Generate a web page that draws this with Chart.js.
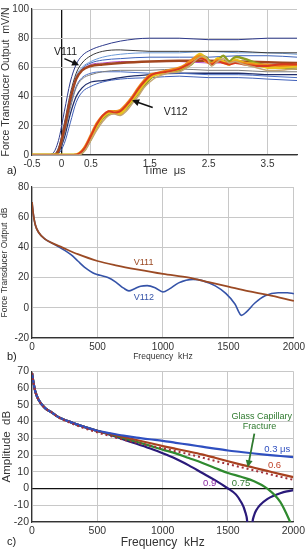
<!DOCTYPE html>
<html>
<head>
<meta charset="utf-8">
<script src="https://cdn.jsdelivr.net/npm/chart.js@4.4.1/dist/chart.umd.min.js"></script>
<style>
  html, body { margin: 0; padding: 0; background: #fff; }
  .wrap { position: relative; width: 308px; height: 550px; overflow: hidden; }
  canvas { position: absolute; left: 0; }
</style>
</head>
<body>
<div class="wrap">
  <canvas id="chartA" width="308" height="178" style="top:0"></canvas>
  <canvas id="chartB" width="308" height="184" style="top:178px"></canvas>
  <canvas id="chartC" width="308" height="188" style="top:362px"></canvas>
</div>
<script>
// ---- a) time traces ----
const TIME_TICKS = [-0.5, 0, 0.5, 1.5, 2.5, 3.5];
const T111 = [-0.5, -0.25, -0.15, -0.05, 0.05, 0.15, 0.25, 0.35, 0.5, 0.7, 1.0, 1.5, 2.0, 2.5, 3.0, 3.5, 4.0];
const V111_TOP    = [0, 0, 1, 10, 30, 50, 62, 68, 72, 75, 78, 80, 80, 79, 79, 80, 80];
const V111_BLACK  = [0, 0, 0, 5, 22, 42, 56, 63, 68, 71, 72, 71, 71, 71, 71, 70, 70];
const V111_LIGHT  = [0, 0, 0, 4, 20, 40, 54, 60, 64, 67, 69, 70, 70, 71, 70, 70, 69];
const V111_BLUE   = [0, 0, 0, 3, 17, 36, 52, 59, 63, 65, 66, 67, 67, 67, 68, 68, 67];
const V111_MAG    = [0, 0, 0, 4, 20, 40, 53, 58, 62, 63, 64, 64, 64, 63, 63, 62, 62];
const V111_GREY   = [0, 0, 0, 2, 14, 32, 46, 52, 55, 57, 58, 58, 59, 58, 58, 57, 57];
const V111_MID    = [0, 0, 0, 3, 16, 34, 47, 53, 56, 57, 57, 56, 56, 55, 55, 54, 53];
const V111_NAVY   = [0, 0, 0, 2, 12, 28, 40, 46, 50, 51, 53, 55, 56, 56, 56, 55, 55];
const V111_LOW    = [0, 0, 0, 1, 8, 22, 36, 43, 47, 50, 52, 53, 54, 53, 53, 52, 51];
const V111_AVG    = [0, 0, 0, 3, 18, 38, 52, 58, 61, 62, 63, 64, 64.5, 64.5, 64, 63.5, 63];

const T112 = [-0.5, 0.2, 0.3, 0.4, 0.5, 0.6, 0.7, 0.8, 0.9, 1.0, 1.1, 1.2, 1.3, 1.4, 1.5, 1.6, 1.8, 2.0, 2.1, 2.2, 2.35, 2.45, 2.55, 2.65, 2.75, 2.85, 2.95, 3.1, 3.3, 3.5, 3.7, 4.0];
const V112_YELLOW = [0, 0, 1, 5, 12, 20, 26, 29, 29, 28, 33, 38, 43, 49, 53, 55, 57, 59, 61, 64, 69, 66, 62, 66, 64, 62, 65, 63, 62, 60, 60, 61];
const V112_GREEN  = [0, 0, 0, 4, 11, 19, 25, 28, 30, 29, 32, 37, 42, 47, 52, 55, 57, 58, 60, 62, 68, 67, 63, 65, 68, 64, 67, 66, 63, 61, 60, 59];
const V112_RED    = [0, 0, 1, 5, 13, 21, 27, 30, 29, 30, 34, 39, 45, 50, 54, 56, 57, 59, 61, 63, 66, 65, 62, 64, 63, 62, 63, 62, 61, 61, 62, 62];
const V112_ORANGE = [0, 0, 1, 6, 14, 22, 27, 30, 30, 31, 35, 40, 46, 51, 55, 56, 58, 60, 62, 65, 68, 64, 63, 65, 63, 63, 64, 63, 62, 62, 61, 62];
const V112_TAN    = [0, 0, 0, 3, 10, 17, 23, 27, 28, 27, 30, 35, 40, 46, 50, 53, 56, 57, 59, 62, 67, 67, 61, 64, 66, 63, 64, 62, 60, 58, 58, 59];

// ---- b) measured spectra ----
const FB111 = [0, 10, 25, 50, 100, 150, 230, 350, 500, 650, 800, 1000, 1200, 1350, 1500, 1650, 1800, 2000];
const DB111 = [70, 62, 55, 50, 45.5, 43, 40, 35.5, 31, 28, 25.5, 22.5, 20, 17, 14, 11, 8.5, 4.6];
const FB112 = [0, 10, 25, 50, 100, 150, 200, 250, 300, 350, 400, 440, 480, 520, 580, 640, 700, 740, 780, 830, 880, 940, 1000, 1050, 1120, 1230, 1300, 1400, 1480, 1550, 1600, 1640, 1700, 1780, 1880, 1950, 2000];
const DB112 = [70, 62, 55, 50, 45.5, 43, 40.5, 38, 35, 31, 27, 24.5, 22.5, 21.5, 20, 17, 13, 11.2, 12.5, 14.3, 14.7, 13.3, 10.5, 12.5, 16.5, 18.8, 18, 14.5, 9.5, 2.5, -5, -2.5, 3, 8, 10, 10, 9.3];

// ---- c) modelled spectra ----
const FC = [0, 10, 25, 50, 100, 150, 200, 300, 400, 500, 600, 700, 800, 900, 1000, 1100, 1200, 1300, 1400, 1500, 1600, 1700, 1800, 1900, 2000];
const DB_03  = [69, 64, 58, 53, 48, 45.5, 42.8, 39.5, 36.8, 34.5, 33, 31.6, 30.4, 29.4, 28.5, 27.3, 26.2, 25, 23.8, 22.7, 21.8, 20.9, 20.1, 19.4, 18.7];
const DB_06  = [69, 64, 58, 53, 48, 45.5, 42.8, 39.5, 36.8, 34.4, 32.6, 30.8, 29, 27.2, 25.3, 23.7, 22.1, 20.4, 18.4, 16.3, 14.3, 12.4, 10.5, 8.6, 6.8];
const DB_GCF = [69, 64, 58, 53, 48, 45.5, 42.5, 39, 36, 33.5, 31.3, 29.2, 27.3, 25.6, 24, 22.3, 20.5, 18.5, 16.5, 14.6, 12.7, 10.8, 8.9, 7, 5.2];
const DB_075 = [69, 64, 58, 53, 48, 45.5, 42.8, 39.5, 36.8, 34.4, 32.3, 30.1, 27.9, 25.6, 23.2, 21, 18.2, 15.4, 12.3, 9.3, 7, 4.4, 0, -8, -24];
const FC09 = [0, 10, 25, 50, 100, 150, 200, 300, 400, 500, 600, 700, 800, 900, 1000, 1100, 1200, 1300, 1400, 1500, 1560, 1600, 1630, 1650, 1667, 1685, 1700, 1720, 1750, 1800, 1850, 1900, 1950, 2000];
const DB_09 = [69, 64, 58, 53, 48, 45.5, 42.8, 39.5, 36.8, 34.4, 32, 29.3, 26.7, 24, 21.1, 17.8, 13.8, 9.4, 5, 0, -3.5, -8, -13.5, -22, -50, -22, -16, -12.5, -9.5, -6.3, -4.3, -2.8, -1.7, -1];

Chart.defaults.font.family = "'Liberation Sans', Arial, sans-serif";
Chart.defaults.color = '#333';
Chart.defaults.animation = false;

function pts(xs, ys) { return xs.map((x, i) => ({ x: x, y: ys[i] })); }

function line(xs, ys, color, width, extra) {
  return Object.assign({
    data: pts(xs, ys), borderColor: color, borderWidth: width,
    pointRadius: 0, fill: false, cubicInterpolationMode: 'monotone'
  }, extra || {});
}

// text labels, arrows and panel letters
const notesPlugin = {
  id: 'notes',
  afterDraw(chart, args, opts) {
    const c = chart.ctx, xs = chart.scales.x, ys = chart.scales.y;
    c.save();
    (opts.arrows || []).forEach(a => {
      const x1 = xs.getPixelForValue(a.x1), y1 = ys.getPixelForValue(a.y1);
      const x2 = xs.getPixelForValue(a.x2), y2 = ys.getPixelForValue(a.y2);
      const ang = Math.atan2(y2 - y1, x2 - x1);
      c.strokeStyle = a.color; c.fillStyle = a.color; c.lineWidth = a.width || 1.5;
      c.beginPath(); c.moveTo(x1, y1);
      c.lineTo(x2 - 5 * Math.cos(ang), y2 - 5 * Math.sin(ang)); c.stroke();
      c.beginPath(); c.moveTo(x2, y2);
      c.lineTo(x2 - 7 * Math.cos(ang) + 3.5 * Math.sin(ang), y2 - 7 * Math.sin(ang) - 3.5 * Math.cos(ang));
      c.lineTo(x2 - 7 * Math.cos(ang) - 3.5 * Math.sin(ang), y2 - 7 * Math.sin(ang) + 3.5 * Math.cos(ang));
      c.closePath(); c.fill();
    });
    (opts.labels || []).forEach(l => {
      c.font = l.font; c.fillStyle = l.color;
      c.textAlign = l.align || 'center'; c.textBaseline = 'middle';
      c.fillText(l.text, xs.getPixelForValue(l.x), ys.getPixelForValue(l.y));
    });
    if (opts.panel) {
      c.font = '11px ' + Chart.defaults.font.family; c.fillStyle = '#222';
      c.textAlign = 'left'; c.textBaseline = 'middle';
      c.fillText(opts.panel, 7, chart.height - opts.panelBottom);
    }
    c.restore();
  }
};

function axes(o) {
  return {
    x: {
      type: 'linear', min: o.xmin, max: o.xmax,
      border: { color: '#333', width: 1.2 },
      grid: { color: o.xgrid || '#c8c8c8', lineWidth: o.xgridW || 1, drawTicks: false },
      ticks: Object.assign({ font: { size: o.tickSize }, color: '#333', padding: 3, maxRotation: 0,
        callback: v => String(v) }, o.xticks || {}),
      afterBuildTicks: o.xlist ? (s => { s.ticks = o.xlist.map(v => ({ value: v })); }) : undefined,
      afterFit: s => { s.height = o.xh; },
      title: { display: true, text: o.xtitle, font: { size: o.xtitleSize }, color: '#333', padding: { top: 0, bottom: 0 } }
    },
    y: {
      min: o.ymin, max: o.ymax,
      border: { color: '#333', width: 1.2 },
      grid: { color: o.ygrid || '#c8c8c8', lineWidth: o.ygridW || 1, drawTicks: false },
      ticks: { stepSize: o.ystep, font: { size: o.tickSize }, color: '#333', padding: 3, callback: v => String(v) },
      afterFit: s => { s.width = 32; },
      title: { display: true, text: o.ytitle, font: { size: o.ytitleSize }, color: '#333', padding: { top: 0, bottom: 1 } }
    }
  };
}

const BASE_PLUGINS = { legend: { display: false }, tooltip: { enabled: false } };
const FONT = Chart.defaults.font.family;

// a)
new Chart(document.getElementById('chartA'), {
  type: 'line',
  data: {
    datasets: [
      line(T112, V112_TAN, '#c4a472', 1.5, { tension: 0.3, cubicInterpolationMode: 'default' }),
      line(T112, V112_RED, '#d93a1e', 2, { tension: 0.3, cubicInterpolationMode: 'default' }),
      line(T112, V112_ORANGE, '#f08a1c', 2, { tension: 0.3, cubicInterpolationMode: 'default' }),
      line(T112, V112_YELLOW, '#e9c21e', 3, { tension: 0.3, cubicInterpolationMode: 'default' }),
      line(T112, V112_GREEN, '#8e9e22', 2.5, { tension: 0.3, cubicInterpolationMode: 'default' }),
      line(T111, V111_AVG, '#a3461f', 2.5),
      line(T111, V111_MAG, '#b44cc2', 1),
      line(T111, V111_TOP, '#2e3a8c', 1),
      line(T111, V111_BLACK, '#3a3a3a', 1),
      line(T111, V111_LIGHT, '#6c9ad6', 1),
      line(T111, V111_BLUE, '#3b61ba', 1),
      line(T111, V111_GREY, '#7d7d7d', 1),
      line(T111, V111_MID, '#4b6fc4', 1),
      line(T111, V111_NAVY, '#1f2d6b', 1.3),
      line(T111, V111_LOW, '#3f5fb8', 1)
    ]
  },
  options: {
    responsive: false,
    layout: { padding: { top: 6, right: 11, left: 0, bottom: 0 } },
    scales: axes({
      xmin: -0.5, xmax: 4, xlist: TIME_TICKS, xh: 23, xtitle: 'Time  \u03bcs', xtitleSize: 11,
      xgrid: ctx => (ctx.tick && ctx.tick.value === 0 ? '#111' : '#c8c8c8'),
      xgridW: ctx => (ctx.tick && ctx.tick.value === 0 ? 1.3 : 1),
      ymin: 0, ymax: 100, ystep: 20, ytitle: 'Force Transducer Output  mV/N', ytitleSize: 10.5, tickSize: 10
    }),
    plugins: Object.assign({}, BASE_PLUGINS, {
      notes: {
        panel: 'a)', panelBottom: 7,
        labels: [
          { text: 'V111', x: 0.07, y: 70.5, color: '#222', font: '10.5px ' + FONT },
          { text: 'V112', x: 1.94, y: 29.5, color: '#222', font: '10.5px ' + FONT }
        ],
        arrows: [
          { x1: 0.05, y1: 66, x2: 0.3, y2: 61.5, color: '#111', width: 1.5 },
          { x1: 1.55, y1: 32.5, x2: 1.2, y2: 37.5, color: '#111', width: 1.5 }
        ]
      }
    })
  },
  plugins: [notesPlugin]
});

// b)
new Chart(document.getElementById('chartB'), {
  type: 'line',
  data: {
    datasets: [
      line(FB111, DB111, '#9b4a24', 1.8),
      line(FB112, DB112, '#3553a8', 1.6)
    ]
  },
  options: {
    responsive: false,
    layout: { padding: { top: 7, right: 12, left: 0, bottom: 0 } },
    scales: axes({
      xmin: 0, xmax: 2000, xh: 24, xtitle: 'Frequency  kHz', xtitleSize: 8.5,
      xticks: { stepSize: 500 },
      ymin: -20, ymax: 80, ystep: 20, ytitle: 'Force Transducer Output  dB', ytitleSize: 8.5, tickSize: 10
    }),
    plugins: Object.assign({}, BASE_PLUGINS, {
      notes: {
        panel: 'b)', panelBottom: 5,
        labels: [
          { text: 'V111', x: 852, y: 30.3, color: '#9b4a24', font: '9px ' + FONT },
          { text: 'V112', x: 855, y: 7, color: '#3553a8', font: '9px ' + FONT }
        ]
      }
    })
  },
  plugins: [notesPlugin]
});

// c)
new Chart(document.getElementById('chartC'), {
  type: 'line',
  data: {
    datasets: [
      line(FC, DB_GCF, '#a0303a', 2, { borderDash: [2, 3] }),
      line(FC, DB_03, '#2f4fc0', 2.2),
      line(FC, DB_06, '#a8411f', 2.2),
      line(FC, DB_075, '#2f8a2f', 2.2),
      line(FC09, DB_09, '#2a1a7a', 2.2)
    ]
  },
  options: {
    responsive: false,
    layout: { padding: { top: 6, right: 12, left: 0, bottom: 0 } },
    scales: axes({
      xmin: 0, xmax: 2000, xh: 28, xtitle: 'Frequency  kHz', xtitleSize: 12,
      xticks: { stepSize: 500 },
      ygrid: ctx => (ctx.tick && ctx.tick.value === 0 ? '#111' : '#c8c8c8'),
      ygridW: ctx => (ctx.tick && ctx.tick.value === 0 ? 1.3 : 1),
      ymin: -20, ymax: 70, ystep: 10, ytitle: 'Amplitude  dB', ytitleSize: 11.5, tickSize: 10.5
    }),
    plugins: Object.assign({}, BASE_PLUGINS, {
      notes: {
        panel: 'c)', panelBottom: 8,
        labels: [
          { text: 'Glass Capillary', x: 1758, y: 43, color: '#2f7a2f', font: '9px ' + FONT },
          { text: 'Fracture', x: 1742, y: 37, color: '#2f7a2f', font: '9px ' + FONT },
          { text: '0.3 \u03bcs', x: 1977, y: 23.4, color: '#2f4fc0', font: '9.5px ' + FONT, align: 'right' },
          { text: '0.6', x: 1856, y: 13.9, color: '#c0442a', font: '9.5px ' + FONT },
          { text: '0.9', x: 1360, y: 2.9, color: '#8a2aa0', font: '9.5px ' + FONT },
          { text: '0.75', x: 1600, y: 2.9, color: '#2f7a2f', font: '9.5px ' + FONT }
        ],
        arrows: [
          { x1: 1702, y1: 32.8, x2: 1652, y2: 12.7, color: '#2f7a2f', width: 1.8 }
        ]
      }
    })
  },
  plugins: [notesPlugin]
});
</script>
</body>
</html>
